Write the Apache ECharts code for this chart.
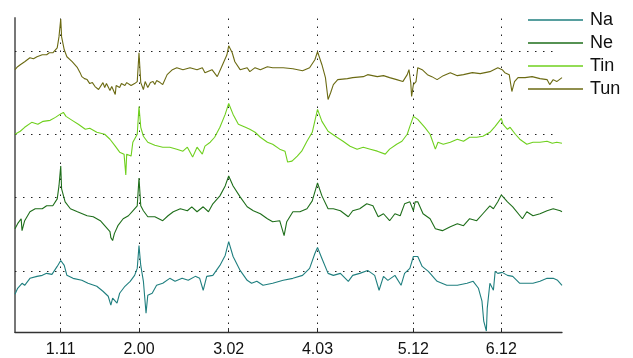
<!DOCTYPE html>
<html>
<head>
<meta charset="utf-8">
<script src="https://cdn.jsdelivr.net/npm/echarts@6/dist/echarts.min.js"></script>
<style>html,body{margin:0;padding:0;background:#fff}#c{width:633px;height:358px}</style>
</head>
<body>
<div id="c"></div>
<script>
const seriesNames = ['Na', 'Ne', 'Tin', 'Tun'];
const tickValues = [1.11, 2.00, 3.02, 4.03, 5.12, 6.12];
const tickLabels = ['1.11', '2.00', '3.02', '4.03', '5.12', '6.12'];
const baselines = [283, 199, 136, 61];

const tunData = [[0.59,264],[0.62,267],[0.65,269],[0.70,272],[0.76,276],[0.80,275],[0.84,277],[0.90,279],[0.95,279],[0.98,281],[1.02,281],[1.07,286],[1.09,297],[1.11,315],[1.12,297],[1.15,284],[1.18,277],[1.24,272],[1.30,266],[1.33,261],[1.35,257],[1.38,255],[1.41,254],[1.44,250],[1.47,251],[1.50,247],[1.52,249],[1.54,244],[1.56,246],[1.59,251],[1.61,246],[1.63,250],[1.65,249],[1.67,243],[1.69,247],[1.71,245],[1.73,239],[1.74,248],[1.76,249],[1.78,246],[1.80,250],[1.82,252],[1.84,248],[1.86,251],[1.88,251],[1.91,248],[1.93,246],[1.95,250],[1.98,252],[2.00,281],[2.02,251],[2.05,244],[2.07,252],[2.10,246],[2.13,251],[2.16,252],[2.18,249],[2.20,253],[2.22,254],[2.24,251],[2.27,249],[2.32,259],[2.38,264],[2.43,266],[2.50,264],[2.58,266],[2.66,264],[2.72,266],[2.75,261],[2.83,264],[2.89,257],[2.94,267],[3.00,279],[3.02,288],[3.06,281],[3.09,272],[3.15,264],[3.23,266],[3.26,262],[3.32,266],[3.38,264],[3.46,267],[3.52,266],[3.64,266],[3.75,265],[3.86,263],[3.94,266],[4.00,274],[4.03,282],[4.08,269],[4.12,256],[4.15,234],[4.18,241],[4.21,249],[4.26,254],[4.37,255],[4.43,256],[4.55,257],[4.60,259],[4.71,257],[4.78,258],[4.85,256],[4.93,254],[5.00,252],[5.05,259],[5.07,264],[5.09,251],[5.10,237],[5.12,249],[5.15,252],[5.17,266],[5.22,264],[5.28,259],[5.33,257],[5.39,254],[5.46,258],[5.54,261],[5.62,258],[5.69,259],[5.79,261],[5.88,260],[5.99,262],[6.08,266],[6.13,264],[6.16,261],[6.21,259],[6.24,242],[6.27,252],[6.31,256],[6.39,256],[6.47,257],[6.56,255],[6.64,254],[6.67,249],[6.71,254],[6.75,252],[6.81,256]];

const tinData = [[0.59,199],[0.65,202],[0.70,206],[0.78,211],[0.85,209],[0.91,212],[0.99,213],[1.05,216],[1.10,219],[1.14,221],[1.17,217],[1.24,213],[1.31,209],[1.39,204],[1.44,205],[1.52,201],[1.61,199],[1.67,194],[1.73,187],[1.78,181],[1.83,179],[1.85,158],[1.86,179],[1.91,177],[1.93,191],[1.98,199],[2.00,227],[2.02,206],[2.05,197],[2.10,191],[2.18,188],[2.27,186],[2.35,186],[2.43,184],[2.50,182],[2.55,186],[2.61,176],[2.66,186],[2.72,179],[2.75,187],[2.81,191],[2.86,196],[2.92,206],[2.98,219],[3.02,230],[3.07,219],[3.13,209],[3.21,206],[3.26,204],[3.32,201],[3.38,196],[3.46,191],[3.52,189],[3.60,184],[3.66,182],[3.69,171],[3.74,172],[3.80,177],[3.85,182],[3.91,192],[3.97,201],[4.03,224],[4.08,212],[4.15,202],[4.25,196],[4.32,192],[4.40,187],[4.48,184],[4.55,186],[4.63,184],[4.71,182],[4.80,179],[4.85,184],[4.93,189],[4.99,192],[5.05,199],[5.08,207],[5.12,217],[5.17,214],[5.25,206],[5.31,199],[5.37,184],[5.40,191],[5.46,189],[5.54,191],[5.62,194],[5.69,192],[5.76,196],[5.84,196],[5.91,197],[5.99,201],[6.05,207],[6.12,215],[6.14,209],[6.19,204],[6.22,206],[6.28,199],[6.33,194],[6.41,189],[6.48,191],[6.56,191],[6.64,192],[6.70,190],[6.75,191],[6.81,190]];

const neData = [[0.59,104],[0.62,109],[0.66,114],[0.67,102],[0.70,112],[0.76,121],[0.82,124],[0.90,124],[0.95,127],[1.02,127],[1.07,134],[1.09,147],[1.11,167],[1.12,144],[1.16,131],[1.22,124],[1.30,121],[1.41,117],[1.48,116],[1.56,112],[1.61,107],[1.64,104],[1.67,101],[1.68,95],[1.70,92],[1.72,99],[1.74,97],[1.76,107],[1.82,114],[1.88,117],[1.93,122],[1.98,127],[2.00,155],[2.02,127],[2.05,122],[2.10,116],[2.18,116],[2.27,112],[2.33,117],[2.39,121],[2.47,124],[2.55,122],[2.60,126],[2.66,121],[2.73,126],[2.79,121],[2.84,129],[2.92,137],[2.98,147],[3.02,157],[3.07,147],[3.15,136],[3.23,126],[3.30,122],[3.38,119],[3.46,114],[3.52,111],[3.60,112],[3.65,97],[3.68,111],[3.75,121],[3.83,121],[3.91,124],[3.97,132],[4.03,150],[4.08,137],[4.15,124],[4.21,124],[4.29,122],[4.38,116],[4.43,122],[4.51,124],[4.59,129],[4.66,127],[4.72,116],[4.78,119],[4.85,112],[4.91,119],[4.97,117],[5.02,129],[5.08,131],[5.12,122],[5.14,131],[5.17,131],[5.23,119],[5.31,114],[5.37,104],[5.45,102],[5.54,106],[5.62,109],[5.69,107],[5.76,114],[5.84,112],[5.91,119],[5.99,127],[6.03,124],[6.08,131],[6.12,138],[6.19,131],[6.25,126],[6.36,114],[6.41,121],[6.48,117],[6.56,119],[6.64,122],[6.71,124],[6.79,122],[6.81,121]];

const naData = [[0.59,38],[0.62,44],[0.67,49],[0.70,47],[0.76,54],[0.84,56],[0.90,57],[0.95,59],[1.01,58],[1.07,66],[1.11,72],[1.15,67],[1.18,57],[1.25,54],[1.35,52],[1.42,49],[1.52,46],[1.59,41],[1.65,36],[1.68,27],[1.70,34],[1.75,29],[1.78,39],[1.84,46],[1.90,51],[1.95,57],[1.98,64],[2.00,87],[2.02,67],[2.05,51],[2.08,19],[2.10,37],[2.15,39],[2.20,47],[2.27,49],[2.35,54],[2.41,51],[2.49,54],[2.56,52],[2.64,56],[2.69,54],[2.73,42],[2.77,56],[2.84,57],[2.92,67],[2.98,77],[3.02,91],[3.07,76],[3.15,62],[3.23,52],[3.28,49],[3.34,51],[3.41,47],[3.52,49],[3.64,52],[3.75,54],[3.86,57],[3.94,64],[4.00,79],[4.03,85],[4.08,74],[4.15,59],[4.21,57],[4.29,59],[4.38,51],[4.43,57],[4.51,59],[4.60,62],[4.68,57],[4.73,42],[4.78,56],[4.83,52],[4.91,57],[4.98,47],[5.02,59],[5.08,64],[5.12,76],[5.17,76],[5.22,66],[5.29,61],[5.39,51],[5.50,47],[5.62,47],[5.73,49],[5.80,51],[5.86,44],[5.90,31],[5.92,11],[5.95,1],[5.96,24],[5.99,49],[6.03,42],[6.05,61],[6.08,59],[6.13,60],[6.19,57],[6.25,56],[6.33,49],[6.41,49],[6.48,49],[6.56,51],[6.64,54],[6.71,54],[6.76,52],[6.81,47]];

const seriesData = [naData, neData, tinData, tunData];
const colors = ['#1f7f7f', '#1e6e1a', '#6fd01e', '#6b6a12'];

const X_MIN = 0.59, X_MAX = 6.81, Y_MIN = 0, Y_MAX = 316;
const FONT = "'Liberation Sans', Arial, Helvetica, sans-serif";
const dotted = { type: [1.5, 6.5], color: '#222', width: 1 };

const markData = baselines.map(v => [{ coord: [X_MIN, v] }, { coord: [6.75, v] }])
  .concat(tickValues.map(v => ({ xAxis: v })));

const chart = echarts.init(document.getElementById('c'), null, { renderer: 'canvas' });
chart.setOption({
  animation: false,
  color: colors,
  textStyle: { fontFamily: FONT },
  grid: { left: 15, right: 71, top: 18, bottom: 24, containLabel: false },
  legend: {
    orient: 'vertical', left: 528, top: 11, padding: 0,
    icon: 'rect', itemWidth: 55, itemHeight: 1.5, itemGap: 5,
    textStyle: { fontSize: 18, lineHeight: 18, color: '#111', fontFamily: FONT, padding: [0, 0, 0, 2] },
    data: seriesNames
  },
  xAxis: {
    type: 'value', min: X_MIN, max: X_MAX,
    axisLine: { show: true, lineStyle: { color: '#333', width: 1.3 } },
    axisTick: { show: true, inside: true, length: 4, customValues: tickValues, lineStyle: { color: '#333' } },
    axisLabel: { show: true, customValues: tickValues, margin: 10, fontSize: 16, color: '#111', fontFamily: FONT,
      formatter: v => { const i = tickValues.findIndex(t => Math.abs(t - v) < 1e-6); return i >= 0 ? tickLabels[i] : ''; } },
    splitLine: { show: false }
  },
  yAxis: {
    type: 'value', min: Y_MIN, max: Y_MAX,
    axisLine: { show: true, lineStyle: { color: '#777', width: 2 } },
    axisTick: { show: false },
    axisLabel: { show: false },
    splitLine: { show: false }
  },
  series: seriesNames.map((n, i) => ({
    name: n, type: 'line', data: seriesData[i], showSymbol: false, symbol: 'none',
    lineStyle: { width: 1.1, color: colors[i] }, itemStyle: { color: colors[i] },
    z: 3,
    markLine: i === 0 ? { silent: true, symbol: 'none', label: { show: false }, lineStyle: dotted, data: markData, z: 1 } : undefined
  }))
});
</script>
</body>
</html>
